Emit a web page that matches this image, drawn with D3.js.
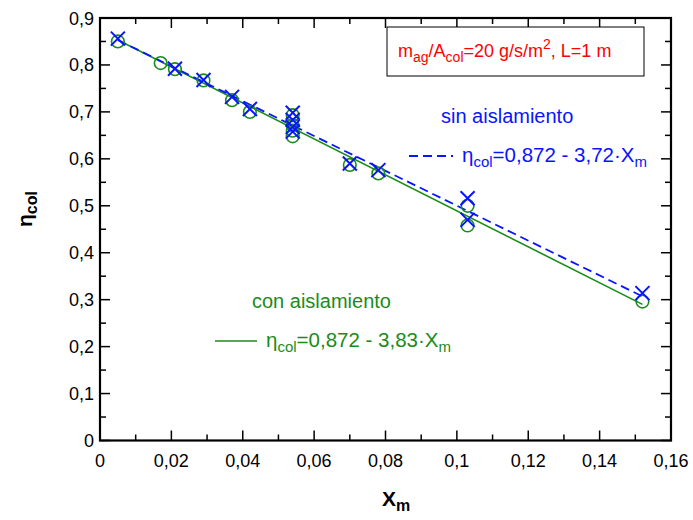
<!DOCTYPE html>
<html><head><meta charset="utf-8">
<script src="https://cdn.jsdelivr.net/npm/d3@7"></script>
<style>body{margin:0;background:#fff}svg{display:block}text{font-family:"Liberation Sans",Arial,sans-serif}</style>
</head><body>
<svg id="c" width="693" height="520"></svg>
<script>
const xTicks = [0,0.02,0.04,0.06,0.08,0.1,0.12,0.14,0.16];
const yTicks = [0,0.1,0.2,0.3,0.4,0.5,0.6,0.7,0.8,0.9];
const xCon = [0.005,0.017,0.021,0.029,0.037,0.042,0.054,0.054,0.054,0.054,0.070,0.078,0.103,0.103,0.152];
const yCon = [0.850,0.804,0.791,0.767,0.725,0.700,0.693,0.672,0.660,0.648,0.587,0.569,0.500,0.458,0.296];
const xSin = [0.005,0.021,0.029,0.037,0.042,0.054,0.054,0.054,0.054,0.070,0.078,0.103,0.103,0.152];
const ySin = [0.856,0.792,0.768,0.732,0.706,0.698,0.683,0.668,0.658,0.590,0.576,0.516,0.470,0.314];
const fitX = [0.005,0.152];
const fitCon = [0.853,0.290];
const fitSin = [0.853,0.307];

const green = "#1a8c1a", blue = "#0a14ff", red = "#ff0000";
const svg = d3.select("#c");
const L=100,R=671,T=18,B=440.5;
const x = d3.scaleLinear().domain([0,0.16]).range([L,R]);
const y = d3.scaleLinear().domain([0,0.9]).range([B,T]);
const fmt = d => String(+d.toFixed(3)).replace(".",",");

// ticks
const xMinor = d3.range(0,17).map(i=>i*0.01);
const yMinor = d3.range(0,19).map(i=>i*0.05);
const g = svg.append("g");
xMinor.forEach((v,i)=>{
  const len = i%2===0?10:6;
  g.append("line").attr("x1",x(v)).attr("x2",x(v)).attr("y1",B).attr("y2",B-len).attr("stroke","#000").attr("stroke-width",1.5);
  g.append("line").attr("x1",x(v)).attr("x2",x(v)).attr("y1",T).attr("y2",T+len).attr("stroke","#000").attr("stroke-width",1.5);
});
yMinor.forEach((v,i)=>{
  const len = i%2===0?10:6;
  g.append("line").attr("x1",L).attr("x2",L+len).attr("y1",y(v)).attr("y2",y(v)).attr("stroke","#000").attr("stroke-width",1.5);
  g.append("line").attr("x1",R).attr("x2",R-len).attr("y1",y(v)).attr("y2",y(v)).attr("stroke","#000").attr("stroke-width",1.5);
});
g.append("rect").attr("x",L).attr("y",T).attr("width",R-L).attr("height",B-T).attr("fill","none").attr("stroke","#000").attr("stroke-width",2.2);

// tick labels
svg.append("g").selectAll("text").data(xTicks).join("text")
  .attr("x",d=>x(d)).attr("y",467).attr("text-anchor","middle").attr("font-size",18).text(fmt);
svg.append("g").selectAll("text").data(yTicks).join("text")
  .attr("x",94).attr("y",d=>y(d)+6.5).attr("text-anchor","end").attr("font-size",18).text(fmt);

// axis titles
const xt = svg.append("text").attr("x",396).attr("y",506).attr("text-anchor","middle").attr("font-size",21).attr("font-weight","bold");
xt.append("tspan").text("X");
xt.append("tspan").attr("dy",5).attr("font-size",16).text("m");
const yt = svg.append("text").attr("transform","translate(32,209) rotate(-90)").attr("text-anchor","middle").attr("font-size",21).attr("font-weight","bold");
yt.append("tspan").text("η");
yt.append("tspan").attr("dy",5).attr("font-size",16).text("col");

// fit lines
const line = d3.line().x(d=>x(d[0])).y(d=>y(d[1]));
svg.append("path").attr("d",line(fitX.map((v,i)=>[v,fitCon[i]]))).attr("stroke",green).attr("stroke-width",1.6).attr("fill","none");
svg.append("path").attr("d",line(fitX.map((v,i)=>[v,fitSin[i]]))).attr("stroke",blue).attr("stroke-width",1.8).attr("fill","none").attr("stroke-dasharray","9,5");

// markers
svg.append("g").selectAll("circle").data(xCon.map((v,i)=>[v,yCon[i]])).join("circle")
  .attr("cx",d=>x(d[0])).attr("cy",d=>y(d[1])).attr("r",6.3).attr("fill","none").attr("stroke",green).attr("stroke-width",1.6);
const s=7;
svg.append("g").selectAll("path").data(xSin.map((v,i)=>[v,ySin[i]])).join("path")
  .attr("d",d=>{const cx=x(d[0]),cy=y(d[1]);return `M${cx-s},${cy-s}L${cx+s},${cy+s}M${cx-s},${cy+s}L${cx+s},${cy-s}`;})
  .attr("stroke",blue).attr("stroke-width",2).attr("fill","none");

// annotation box
svg.append("rect").attr("x",387).attr("y",27).attr("width",257).attr("height",49).attr("fill","#fff").attr("stroke","#000").attr("stroke-width",1);
const bt = svg.append("text").attr("x",398).attr("y",57).attr("font-size",18).attr("fill",red);
bt.append("tspan").text("m");
bt.append("tspan").attr("dy",5).attr("font-size",14).text("ag");
bt.append("tspan").attr("dy",-5).text("/A");
bt.append("tspan").attr("dy",5).attr("font-size",14).text("col");
bt.append("tspan").attr("dy",-5).text("=20 g/s/m");
bt.append("tspan").attr("dy",-8).attr("font-size",14).text("2");
bt.append("tspan").attr("dy",8).text(", L=1 m");

// sin aislamiento
svg.append("text").attr("x",441).attr("y",123).attr("font-size",20).attr("fill",blue).text("sin aislamiento");
svg.append("line").attr("x1",409).attr("x2",453).attr("y1",156).attr("y2",156).attr("stroke",blue).attr("stroke-width",1.8).attr("stroke-dasharray","9,5");
const e1 = svg.append("text").attr("x",462).attr("y",162).attr("font-size",20.5).attr("fill",blue);
e1.append("tspan").text("η");
e1.append("tspan").attr("dy",5).attr("font-size",15).text("col");
e1.append("tspan").attr("dy",-5).text("=0,872 - 3,72·X");
e1.append("tspan").attr("dy",5).attr("font-size",15).text("m");

// con aislamiento
svg.append("text").attr("x",252).attr("y",308).attr("font-size",20).attr("fill",green).text("con aislamiento");
svg.append("line").attr("x1",215).attr("x2",257).attr("y1",341).attr("y2",341).attr("stroke",green).attr("stroke-width",1.6);
const e2 = svg.append("text").attr("x",266).attr("y",347).attr("font-size",20.5).attr("fill",green);
e2.append("tspan").text("η");
e2.append("tspan").attr("dy",5).attr("font-size",15).text("col");
e2.append("tspan").attr("dy",-5).text("=0,872 - 3,83·X");
e2.append("tspan").attr("dy",5).attr("font-size",15).text("m");
</script>
</body></html>
